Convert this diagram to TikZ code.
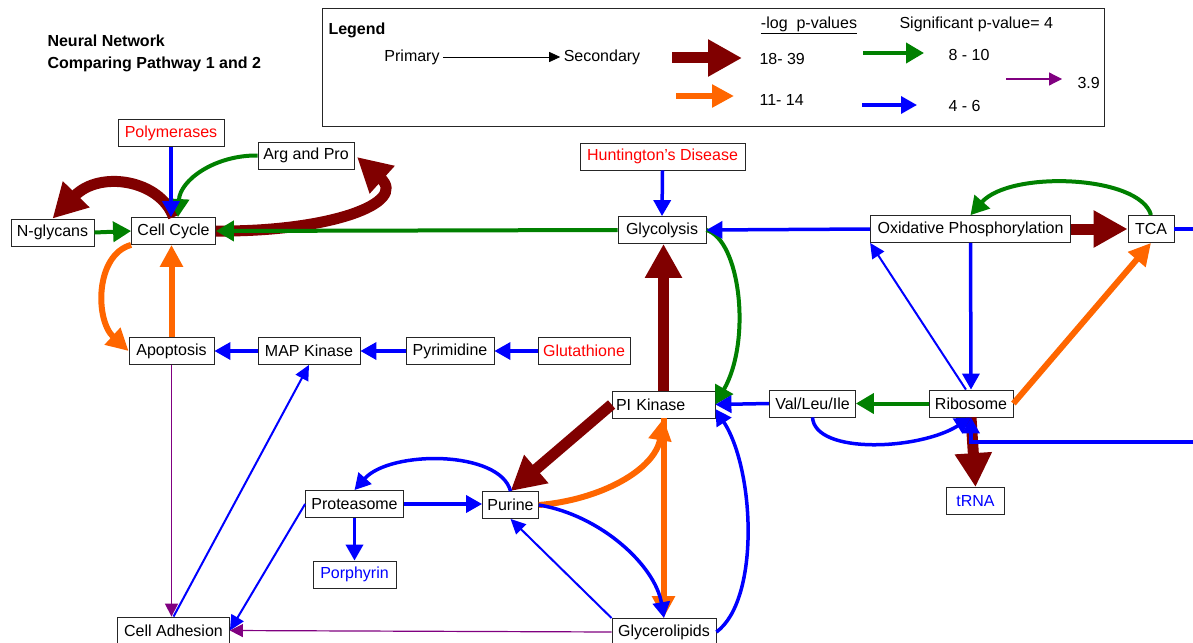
\documentclass[tikz,border=0pt]{standalone}
\usepackage{fontspec}
\setmainfont{Liberation Sans}
\usepackage{xcolor}
\usepackage{tikz}
\usetikzlibrary{arrows.meta}

\definecolor{darkred}{RGB}{128,0,0}
\definecolor{pathorange}{RGB}{255,102,0}
\definecolor{pathgreen}{RGB}{0,128,0}
\definecolor{pathblue}{RGB}{0,0,255}
\definecolor{pathpurple}{RGB}{128,0,128}

\begin{document}
\begin{tikzpicture}[x=1pt, y=-1pt, every node/.style={font=\fontsize{16}{19}\selectfont}]
        % Define block styles with white background
        \tikzstyle{block} = [rectangle, draw=black!85, line width=0.8pt, fill=white,
                             inner xsep=4pt, inner ysep=2pt, minimum height=27pt]
        \tikzstyle{redblock} = [block, text=red]
        \tikzstyle{blueblock} = [block, text=pathblue]
        \tikzstyle{darkarrow} = [draw=darkred, line width=11pt, -{Triangle[length=34pt, width=35pt]}, darkred]
        \tikzstyle{orangearrow} = [draw=pathorange, line width=6pt, -{Triangle[length=22pt, width=22pt]}, pathorange]
        \tikzstyle{greenarrow} = [draw=pathgreen, line width=4pt, -{Triangle[length=18pt, width=20pt]}, pathgreen]
        \tikzstyle{bluearrow} = [draw=pathblue, line width=3.5pt, -{Triangle[length=16pt, width=17pt]}, pathblue]
        \tikzstyle{thinblue} = [draw=pathblue, line width=2pt, -{Triangle[length=15pt, width=14pt]}, pathblue]
        \tikzstyle{purplearrow} = [draw=pathpurple, line width=1.2pt, -{Triangle[length=13pt, width=13pt]}, pathpurple]
        \tikzstyle{plainarrow} = [draw=black, line width=0.8pt, -{Triangle[length=11pt, width=10pt]}]

        \useasboundingbox (0,0) rectangle (1193,642);

        % Title and legend
        \node (title) [anchor=west, align=left, font=\fontsize{16}{22}\selectfont\bfseries] at (44,53) {Neural Network\\Comparing Pathway 1 and 2};
        \node (legend) [draw=black!85, line width=0.8pt, minimum width=782pt, minimum height=118pt, inner sep=0pt] at (713,67) {};
        \node (legendtitle) [anchor=west, font=\fontsize{16}{19}\selectfont\bfseries] at (325,30) {Legend};
        \node (primary) at (412,57) {Primary};
        \node (secondary) at (602,57) {Secondary};
        \node (logp) at (809,25) {\underline{-log\ \ p-values}};
        \node (signif) [anchor=west] at (896,24) {Significant p-value= 4};
        \node (labdark) [anchor=west] at (756,59) {18- 39};
        \node (laborange) [anchor=west] at (756,100) {11- 14};
        \node (labgreen) [anchor=west] at (945,55) {8 - 10};
        \node (labblue) [anchor=west] at (945,106) {4 - 6};
        \node (labpurple) [anchor=west] at (1074,83) {3.9};
        \coordinate (darkA) at (672,58);   \coordinate (darkB) at (742,58);
        \coordinate (orangeA) at (676,96); \coordinate (orangeB) at (734,96);
        \coordinate (greenA) at (863,53);  \coordinate (greenB) at (924,53);
        \coordinate (blueA) at (862,105);  \coordinate (blueB) at (917,105);
        \coordinate (purpleA) at (1006,79); \coordinate (purpleB) at (1062,79);
        \draw [plainarrow] (primary) -- (secondary);
        \draw [darkarrow] (darkA) -- (darkB);
        \draw [orangearrow] (orangeA) -- (orangeB);
        \draw [greenarrow] (greenA) -- (greenB);
        \draw [bluearrow] (blueA) -- (blueB);
        \draw [purplearrow] (purpleA) -- (purpleB);

        % Pathway blocks
        \node (polymerases) [redblock, minimum width=106pt] at (171,133) {Polymerases};
        \node (argpro) [block, minimum width=96pt] at (306,155.5) {Arg and Pro};
        \node (nglycans) [block, minimum width=83pt] at (52.5,232.5) {N-glycans};
        \node (cellcycle) [block, minimum width=84pt] at (173.5,231) {Cell Cycle};
        \node (apoptosis) [block, minimum width=85pt] at (171.5,351) {Apoptosis};
        \node (mapkinase) [block, minimum width=102pt] at (309,351) {MAP Kinase};
        \node (pyrimidine) [block, minimum width=88pt] at (450,351) {Pyrimidine};
        \node (glutathione) [redblock, minimum width=92pt] at (584,351) {Glutathione};
        \node (huntington) [redblock, minimum width=165pt] at (662.5,156.5) {Huntington's Disease};
        \node (glycolysis) [block, minimum width=88pt] at (662,230) {Glycolysis};
        \node (oxphos) [block, minimum width=200pt] at (970.5,229) {Oxidative Phosphorylation};
        \node (tca) [block, minimum width=46pt] at (1151,229) {TCA};
        \node (pikinase) [block, text width=95pt, align=left] at (663.5,404.5) {PI Kinase};
        \node (valleu) [block, minimum width=86pt] at (812.5,403.5) {Val/Leu/Ile};
        \node (ribosome) [block, minimum width=84pt] at (971,403.5) {Ribosome};
        \node (trna) [blueblock, minimum width=58pt] at (975.5,501) {tRNA};
        \node (proteasome) [block, minimum width=98pt] at (354.5,504) {Proteasome};
        \node (purine) [block, minimum width=56pt] at (510.5,505) {Purine};
        \node (porphyrin) [blueblock, minimum width=83pt] at (354.5,574.5) {Porphyrin};
        \node (celladhesion) [block, minimum width=112pt] at (173.5,630.5) {Cell Adhesion};
        \node (glycerolipids) [block, minimum width=104pt] at (664,632) {Glycerolipids};
        \coordinate (tcaedge) at (1193,229);
        \coordinate (ribedge) at (1193,442);

        % Arrows, 18-39
        \draw [darkarrow] (cellcycle.north) .. controls (160,180) and (100,170) .. (nglycans.north);
        \draw [darkarrow] (cellcycle.east) .. controls (330,232) and (408,203) .. (357,157);
        \draw [darkarrow] (pikinase.north) -- (pikinase.north |- glycolysis.south);
        \draw [darkarrow] (pikinase.west) -- (purine.north);
        \draw [darkarrow] (oxphos.east) -- (tca.west);
        \draw [darkarrow] (ribosome.south) -- (trna.north);

        % Arrows, 11-14
        \draw [orangearrow] (cellcycle.south west) .. controls (95,255) and (95,320) .. (apoptosis.west);
        \draw [orangearrow] (apoptosis.north) -- (apoptosis.north |- cellcycle.south);
        \draw [orangearrow] (purine.east) .. controls (600,500) and (655,470) .. (pikinase.south);
        \draw [orangearrow] (pikinase.south) -- (pikinase.south |- glycerolipids.north);
        \draw [orangearrow] (ribosome.east) -- (tca.south);

        % Arrows, 8-10
        \draw [greenarrow] (argpro.west) .. controls (215,155) and (180,180) .. (178,217);
        \draw [greenarrow] (nglycans.east) -- (cellcycle.west);
        \draw [greenarrow] (glycolysis.west) -- (cellcycle.east);
        \draw [greenarrow] (glycolysis.east) .. controls (740,240) and (752,340) .. (pikinase.east);
        \draw [greenarrow] (tca.north) .. controls (1140,175) and (1010,170) .. (oxphos.north);
        \draw [greenarrow] (ribosome.west) -- (valleu.east);

        % Arrows, 4-6
        \draw [bluearrow] (polymerases.south) -- (polymerases.south |- cellcycle.north);
        \draw [bluearrow] (mapkinase.west) -- (apoptosis.east);
        \draw [bluearrow] (pyrimidine.west) -- (mapkinase.east);
        \draw [bluearrow] (glutathione.west) -- (pyrimidine.east);
        \draw [bluearrow] (huntington.south) -- (glycolysis.north);
        \draw [bluearrow] (oxphos.west) -- (glycolysis.east);
        \draw [bluearrow, -] (tca.east) -- (tcaedge);
        \draw [bluearrow] (oxphos.south) -- (ribosome.north);
        \draw [bluearrow] (valleu.west) -- (pikinase.east);
        \draw [bluearrow] (valleu.south) .. controls (815,455) and (920,450) .. (ribosome.south);
        \draw [bluearrow] (ribedge) -| (ribosome.south);
        \draw [bluearrow] (purine.north) .. controls (500,450) and (390,450) .. (proteasome.north);
        \draw [bluearrow] (proteasome.east) -- (proteasome.east -| purine.west);
        \draw [bluearrow] (proteasome.south) -- (proteasome.south |- porphyrin.north);
        \draw [bluearrow] (purine.east) .. controls (600,515) and (655,565) .. (glycerolipids.north);
        \draw [bluearrow] (glycerolipids.east) .. controls (760,600) and (755,470) .. (pikinase.-5);
        \draw [thinblue] (celladhesion.north) -- (mapkinase.south);
        \draw [thinblue] (proteasome.west) -- (celladhesion.east);
        \draw [thinblue] (glycerolipids.north west) -- (purine.south);
        \draw [thinblue] (ribosome.110) -- (oxphos.south west);

        % Arrows, 3.9
        \draw [purplearrow] (apoptosis.south) -- (apoptosis.south |- celladhesion.north);
        \draw [purplearrow] (glycerolipids.west) -- (celladhesion.east);
    \end{tikzpicture}
\end{document}
